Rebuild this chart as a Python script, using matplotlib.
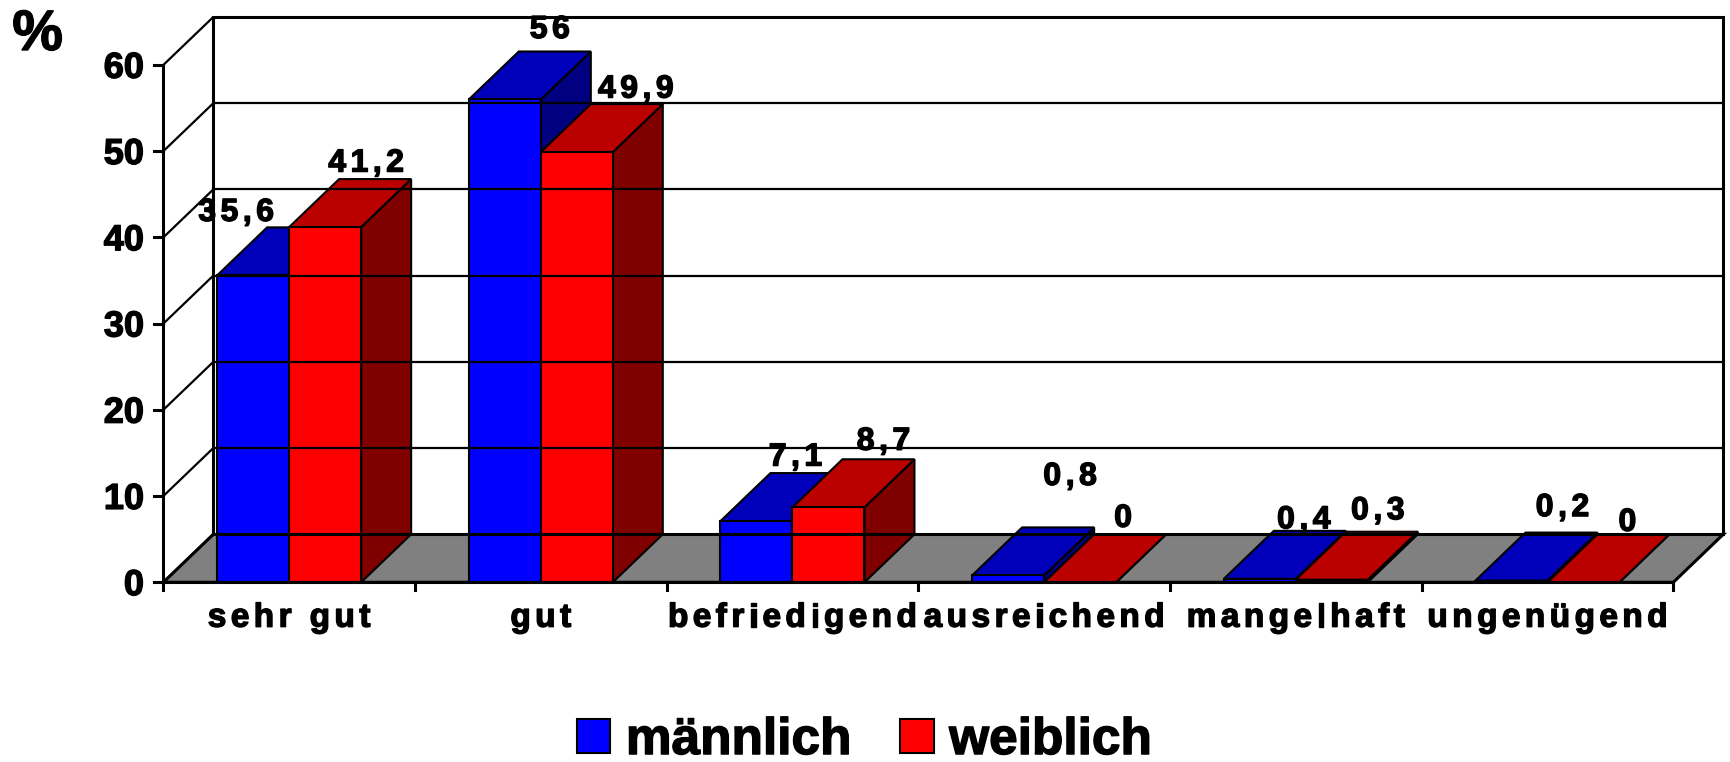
import matplotlib
matplotlib.use('Agg')
import matplotlib.pyplot as plt
from matplotlib.patches import Polygon, Patch
from matplotlib.font_manager import FontProperties
import matplotlib.patheffects as pe

# ---------------- data ----------------
categories = ['sehr gut', 'gut', 'befriedigend', 'ausreichend', 'mangelhaft', 'ungenügend']
maennlich = [35.6, 56, 7.1, 0.8, 0.4, 0.2]
weiblich = [41.2, 49.9, 8.7, 0, 0.3, 0]
series_names = ['männlich', 'weiblich']
yticks = [0, 10, 20, 30, 40, 50, 60]
y_unit = '%'

# ---------------- style ----------------
FONT = ['Liberation Sans', 'DejaVu Sans']
front_c = ['#0000FF', '#FF0000']
top_c = ['#0000BB', '#BB0000']
side_c = ['#000080', '#800000']
floor_c = '#808080'
HEAVY = [pe.withStroke(linewidth=1.0, foreground='k')]

# label offsets (pixels) relative to back-centre of bar top: (dx, height above)
lab_off_m = [(-67, 18), (-5, 25), (-11, 19), (12, 54), (-6, 14), (1, 28)]
lab_off_w = [(-9, 19), (9, 18), (5, 21), (-7, 19), (-4, 24), (-6, 15)]

W, H = 1731, 762
fig = plt.figure(figsize=(W / 100, H / 100), dpi=100)
ax = fig.add_axes([0, 0, 1, 1])

# pixel layout of the front frame
x0px, x6px = 163.3, 1673.3
ybot_px, ytop_px = 582.3, 65.0
n = len(categories)
ymax = yticks[-1]
ppx = (x6px - x0px) / n
ppy = (ybot_px - ytop_px) / ymax
ax.set_xlim(-x0px / ppx, (W - x0px) / ppx)
ax.set_ylim(-(H - ybot_px) / ppy, ybot_px / ppy)
ax.axis('off')

dx = 50 / ppx
dy = 48 / ppy
bw = 72 / ppx
off = (1 - 2 * bw) / 2

LW_FRAME = 2.2
LW_GRID = 1.6
LW_BAR = 1.5

# floor
ax.add_patch(Polygon([(0, 0), (n, 0), (n + dx, dy), (dx, dy)], closed=True,
                     fc=floor_c, ec='k', lw=LW_FRAME, joinstyle='miter'))
# back wall
ax.add_patch(Polygon([(dx, dy), (n + dx, dy), (n + dx, ymax + dy), (dx, ymax + dy)],
                     closed=True, fc='white', ec='none'))
for v in yticks[1:-1]:
    ax.plot([dx, n + dx], [v + dy, v + dy], color='k', lw=LW_GRID, solid_capstyle='butt')
for v in yticks:
    ax.plot([0, dx], [v, v + dy], color='k', lw=LW_GRID, solid_capstyle='butt')
ax.plot([dx, dx, n + dx, n + dx], [dy, ymax + dy, ymax + dy, dy], color='k', lw=LW_FRAME,
        solid_joinstyle='miter')
ax.plot([dx, n + dx], [dy, dy], color='k', lw=LW_FRAME)
# front y axis + ticks
ax.plot([0, 0], [0, ymax], color='k', lw=LW_FRAME)
for v in yticks:
    ax.plot([-9 / ppx, 0], [v, v], color='k', lw=LW_FRAME)

# bars
for i in range(n):
    for s, vals in enumerate([maennlich, weiblich]):
        xa = i + off + s * bw
        xb = xa + bw
        h = vals[i]
        ax.add_patch(Polygon([(xb, 0), (xb + dx, dy), (xb + dx, h + dy), (xb, h)], closed=True,
                             fc=side_c[s], ec='k', lw=LW_BAR, joinstyle='miter'))
        ax.add_patch(Polygon([(xa, h), (xb, h), (xb + dx, h + dy), (xa + dx, h + dy)], closed=True,
                             fc=top_c[s], ec='k', lw=LW_BAR, joinstyle='miter'))
        ax.add_patch(Polygon([(xa, 0), (xb, 0), (xb, h), (xa, h)], closed=True,
                             fc=front_c[s], ec='k', lw=LW_BAR, joinstyle='miter'))

# front x axis + ticks
ax.plot([0, n], [0, 0], color='k', lw=LW_FRAME)
for k in range(n + 1):
    ax.plot([k, k], [0, -8 / ppy], color='k', lw=LW_FRAME)

# ---------------- text ----------------
renderer = fig.canvas.get_renderer()


def textw(t, prop):
    return renderer.get_text_width_height_descent(t, prop, ismath=False)[0]


def spaced_text(x, y, s, size, spacing_px, dx_px=0.0, dy_px=0.0, ha='center'):
    prop = FontProperties(family=FONT, weight='bold', size=size)
    base = textw('HH', prop)
    widths = [textw('H' + c + 'H', prop) - base for c in s]
    total = sum(widths) + spacing_px * (len(s) - 1)
    pos = -total / 2 if ha == 'center' else (0 if ha == 'left' else -total)
    for c, wdt in zip(s, widths):
        ax.annotate(c, (x, y), xytext=((pos + dx_px) * 0.72, dy_px * 0.72),
                    textcoords='offset points', ha='left', va='baseline',
                    fontproperties=prop, annotation_clip=False, path_effects=HEAVY)
        pos += wdt + spacing_px


def fmt(v):
    return f'{v:g}'.replace('.', ',')


# value labels
for s, (vals, offs) in enumerate([(maennlich, lab_off_m), (weiblich, lab_off_w)]):
    for i, v in enumerate(vals):
        xc = i + off + s * bw + bw / 2 + dx
        ox, above = offs[i]
        spaced_text(xc, v + dy, fmt(v), 23, 4.5, dx_px=ox, dy_px=above - 11.5)

# category labels
for i, c in enumerate(categories):
    spaced_text(i + 0.5, 0, c, 24, 4.4, dy_px=-44.4)

# y tick labels
tick_prop = FontProperties(family=FONT, weight='bold', size=26)
for v in yticks:
    ax.annotate(str(v), (0, v), xytext=(-19.3 * 0.72, -12.8 * 0.72), textcoords='offset points',
                ha='right', va='baseline', fontproperties=tick_prop, annotation_clip=False,
                path_effects=HEAVY)

# unit label
ax.annotate(y_unit, (0, ymax), xytext=(-151 * 0.72, 15 * 0.72), textcoords='offset points',
            ha='left', va='baseline', fontproperties=FontProperties(family=FONT, weight='bold', size=41),
            annotation_clip=False, path_effects=HEAVY)

# legend
handles = [Patch(facecolor=front_c[s], edgecolor='k', lw=1.5, label=series_names[s]) for s in range(2)]
leg = fig.legend(handles=handles, loc='lower center', bbox_to_anchor=(0.4994, -0.004), ncol=2,
                 frameon=False, prop=FontProperties(family=FONT, weight='bold', size=37),
                 handlelength=0.65, handleheight=0.65, handletextpad=0.3, columnspacing=0.95,
                 borderpad=0.0, borderaxespad=0.0)
for t in leg.get_texts():
    t.set_path_effects(HEAVY)

fig.savefig('out.png', dpi=100)
